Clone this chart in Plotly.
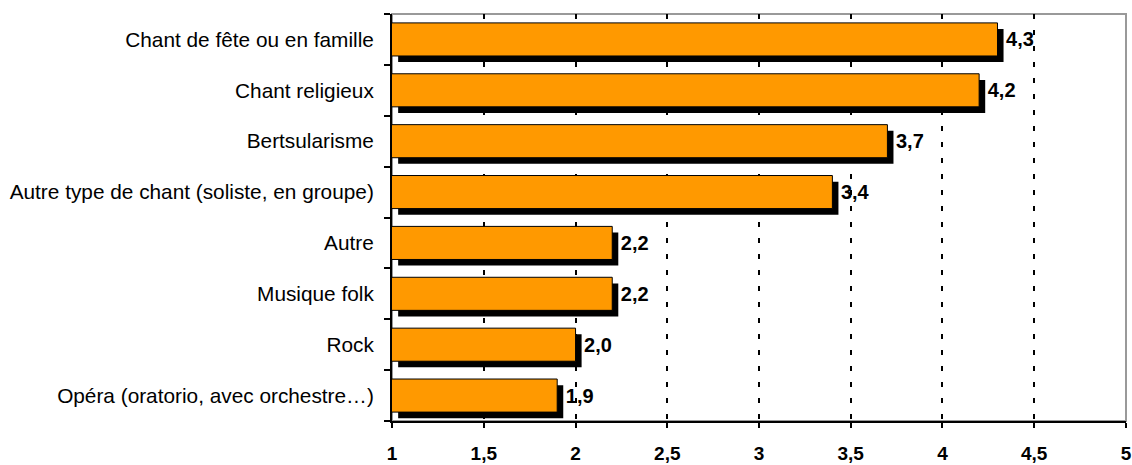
import plotly.graph_objects as go

categories = [
    "Chant de fête ou en famille",
    "Chant religieux",
    "Bertsularisme",
    "Autre type de chant (soliste, en groupe)",
    "Autre",
    "Musique folk",
    "Rock",
    "Opéra (oratorio, avec orchestre…)",
]
values = [4.3, 4.2, 3.7, 3.4, 2.2, 2.2, 2.0, 1.9]
x_ticks = [1, 1.5, 2, 2.5, 3, 3.5, 4, 4.5, 5]

pos = list(range(len(categories)))
# shadow offset (data units)
dx, dy = 0.033, 0.12

fig = go.Figure()

# black drop shadow
fig.add_trace(go.Bar(
    y=[p + dy for p in pos], x=[v - 1 for v in values], base=1 + dx,
    orientation="h", width=0.65,
    marker=dict(color="black", line=dict(width=0)),
    hoverinfo="skip", showlegend=False,
))

# orange bars
fig.add_trace(go.Bar(
    y=pos, x=values, orientation="h", width=0.65,
    marker=dict(color="#FF9900", line=dict(color="black", width=1)),
    texttemplate="\u00a0%{x:.1f}", textposition="outside",
    textfont=dict(family="Liberation Sans, Arial", size=20, color="black", weight="bold"),
    cliponaxis=False, showlegend=False,
))

fig.update_layout(
    width=1132, height=465,
    margin=dict(l=392, r=6, t=14, b=44),
    plot_bgcolor="white", paper_bgcolor="white",
    barmode="overlay", separators=",.",
    font=dict(family="Liberation Sans, Arial", size=20, color="black"),
    shapes=[dict(type="rect", xref="paper", yref="paper", x0=0, x1=1, y0=0, y1=1,
                 line=dict(color="#999999", width=2), layer="below")],
)

fig.update_xaxes(
    range=[0.9995, 5.0005], tickvals=x_ticks, ticks="outside", ticklen=5, tickwidth=2,
    tickcolor="black", showline=True, linecolor="black", linewidth=2,
    showgrid=True, gridcolor="black", gridwidth=2, griddash="5px,11px",
    tickfont=dict(size=19, weight="bold"), ticklabelstandoff=9, zeroline=False,
    automargin=False,
)

fig.update_yaxes(
    range=[7.5, -0.5], tickvals=pos, ticktext=categories, ticks="",
    showline=True, linecolor="black", linewidth=2, showgrid=False, zeroline=False,
    ticklabelstandoff=12, tickfont=dict(size=20.8), automargin=False,
    minor=dict(tickvals=[p - 0.5 for p in pos] + [len(pos) - 0.5], ticks="outside",
               ticklen=6, tickwidth=2, tickcolor="black", showgrid=False),
)

# drop the default 8px page margin so the figure fills the window exactly
fig.write_html("out.html", config={"displayModeBar": False},
               post_script="document.body.style.margin='0';")
